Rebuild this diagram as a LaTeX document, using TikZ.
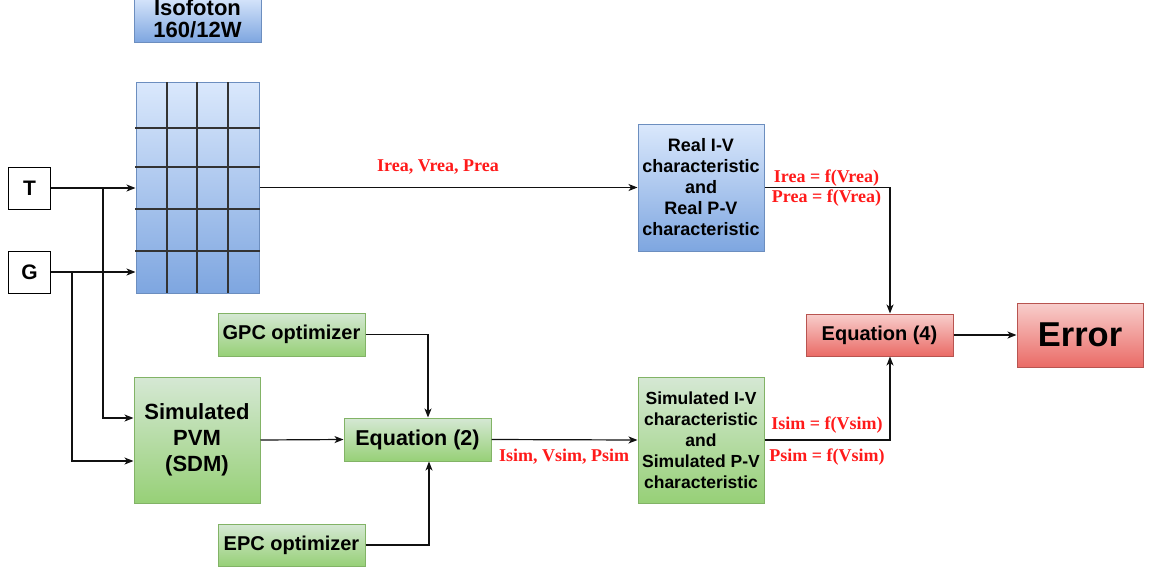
\documentclass[tikz,border=0pt]{standalone}
\usepackage{fontspec}
\setmainfont{Liberation Sans}
\newfontfamily\labelfont{Liberation Serif}
\usetikzlibrary{arrows.meta}

\definecolor{blueTop}{HTML}{DAE8FC}
\definecolor{blueBot}{HTML}{7EA6E0}
\definecolor{blueLine}{HTML}{6C8EBF}
\definecolor{greenTop}{HTML}{D5E8D4}
\definecolor{greenBot}{HTML}{97D077}
\definecolor{greenLine}{HTML}{82B366}
\definecolor{redTop}{HTML}{F8CECC}
\definecolor{redBot}{HTML}{EA6B66}
\definecolor{redLine}{HTML}{B85450}
\definecolor{gridLine}{HTML}{333333}
\definecolor{wire}{HTML}{111111}
\definecolor{sigRed}{HTML}{FF1A1A}

\tikzset{
  box/.style={draw, line width=1pt, inner sep=0pt, align=center, font=\bfseries},
  bluebox/.style={box, draw=blueLine, top color=blueTop, bottom color=blueBot},
  greenbox/.style={box, draw=greenLine, top color=greenTop, bottom color=greenBot},
  redbox/.style={box, draw=redLine, top color=redTop, bottom color=redBot},
  inbox/.style={box, draw=black, fill=white, minimum width=42pt, minimum height=42pt,
    font=\bfseries\fontsize{21}{24}\selectfont},
  arr/.style={draw=wire, line width=1.2pt, -{Stealth[length=9pt,width=7pt,inset=2.5pt]}},
  sig/.style={text=sigRed, font=\labelfont\bfseries\fontsize{18}{20}\selectfont, inner sep=0pt},
}

\begin{document}
\begin{tikzpicture}[x=1pt,y=-1pt]
\useasboundingbox (0,0) rectangle (1152,571);
\begin{scope}
\clip (0,0) rectangle (1152,571);

% module label
\node[bluebox, minimum width=127pt, minimum height=46pt,
      font=\bfseries\fontsize{22}{22}\selectfont] (iso) at (197.5,19) {Isofoton\\160/12W};

% PV module with its cell grid
\node[bluebox, minimum width=123pt, minimum height=211pt] (panel) at (197.5,187.5) {};
\foreach \gx in {167,197,228}
  \draw[gridLine, line width=1.5pt] (\gx,82) -- (\gx,293);
\foreach \gy in {128,167,209,251}
  \draw[gridLine, line width=1.5pt] (135,\gy) -- (260,\gy);
\end{scope}

% inputs
\node[inbox] (T) at (29.5,188) {T};
\node[inbox] (G) at (29.5,272) {G};

% simulation branch
\node[greenbox, minimum width=126pt, minimum height=126pt,
      font=\bfseries\fontsize{22}{26}\selectfont] (pvm) at (197,440) {Simulated\\PVM\\(SDM)};
\node[greenbox, minimum width=147pt, minimum height=43pt,
      font=\bfseries\fontsize{20}{24}\selectfont] (gpc) at (291.5,334.5) {GPC optimizer};
\node[greenbox, minimum width=147pt, minimum height=42pt,
      font=\bfseries\fontsize{20}{24}\selectfont] (epc) at (291.5,545) {EPC optimizer};
\node[greenbox, minimum width=147pt, minimum height=43pt,
      font=\bfseries\fontsize{21.5}{24}\selectfont] (eq2) at (417.5,439.5) {Equation (2)};
\node[greenbox, minimum width=126pt, minimum height=126pt,
      font=\bfseries\fontsize{17.5}{21}\selectfont] (simiv) at (701,440)
      {Simulated I-V\\characteristic\\and\\Simulated P-V\\characteristic};

% measured branch
\node[bluebox, minimum width=126pt, minimum height=127pt,
      font=\bfseries\fontsize{18}{21}\selectfont] (real) at (701,187.5)
      {Real I-V\\characteristic\\and\\Real P-V\\characteristic};

% comparison
\node[redbox, minimum width=147pt, minimum height=42pt,
      font=\bfseries\fontsize{20}{24}\selectfont] (eq4) at (879.5,335) {Equation (4)};
\node[redbox, minimum width=126pt, minimum height=64pt,
      font=\bfseries\fontsize{34.5}{40}\selectfont] (error) at (1080,335) {Error};

% branch points of the input wires
\coordinate (tsplit) at (103,188);
\coordinate (gsplit) at (72,272);

% connectors
\draw[arr] (T.east) -- (T.east -| panel.west);
\draw[arr] (G.east) -- (G.east -| panel.west);
\draw[arr] (tsplit) |- ([yshift=22pt]pvm.west);
\draw[arr] (gsplit) |- ([yshift=-21pt]pvm.west);
\draw[arr] (panel.east |- real.west) -- (real.west);
\draw[arr] (pvm.east) -- (eq2.west);
\draw[arr] (gpc.east) -| ([xshift=10.5pt]eq2.north);
\draw[arr] (epc.east) -| ([xshift=11.5pt]eq2.south);
\draw[arr] (eq2.east) -- (simiv.west);
\draw[arr] (real.east) -| ([xshift=10.5pt]eq4.north);
\draw[arr] (simiv.east) -| ([xshift=10.5pt]eq4.south);
\draw[arr] (eq4.east) -- (error.west);

% signal labels
\node[sig] (lrea) at (438,167) {Irea, Vrea, Prea};
\node[sig] (lsim) at (564,457) {Isim, Vsim, Psim};
\node[sig] (lirea) at (826.5,178) {Irea = f(Vrea)};
\node[sig] (lprea) at (826.5,198.5) {Prea = f(Vrea)};
\node[sig] (lisim) at (827,425) {Isim = f(Vsim)};
\node[sig] (lpsim) at (827,457) {Psim = f(Vsim)};
\end{tikzpicture}
\end{document}
